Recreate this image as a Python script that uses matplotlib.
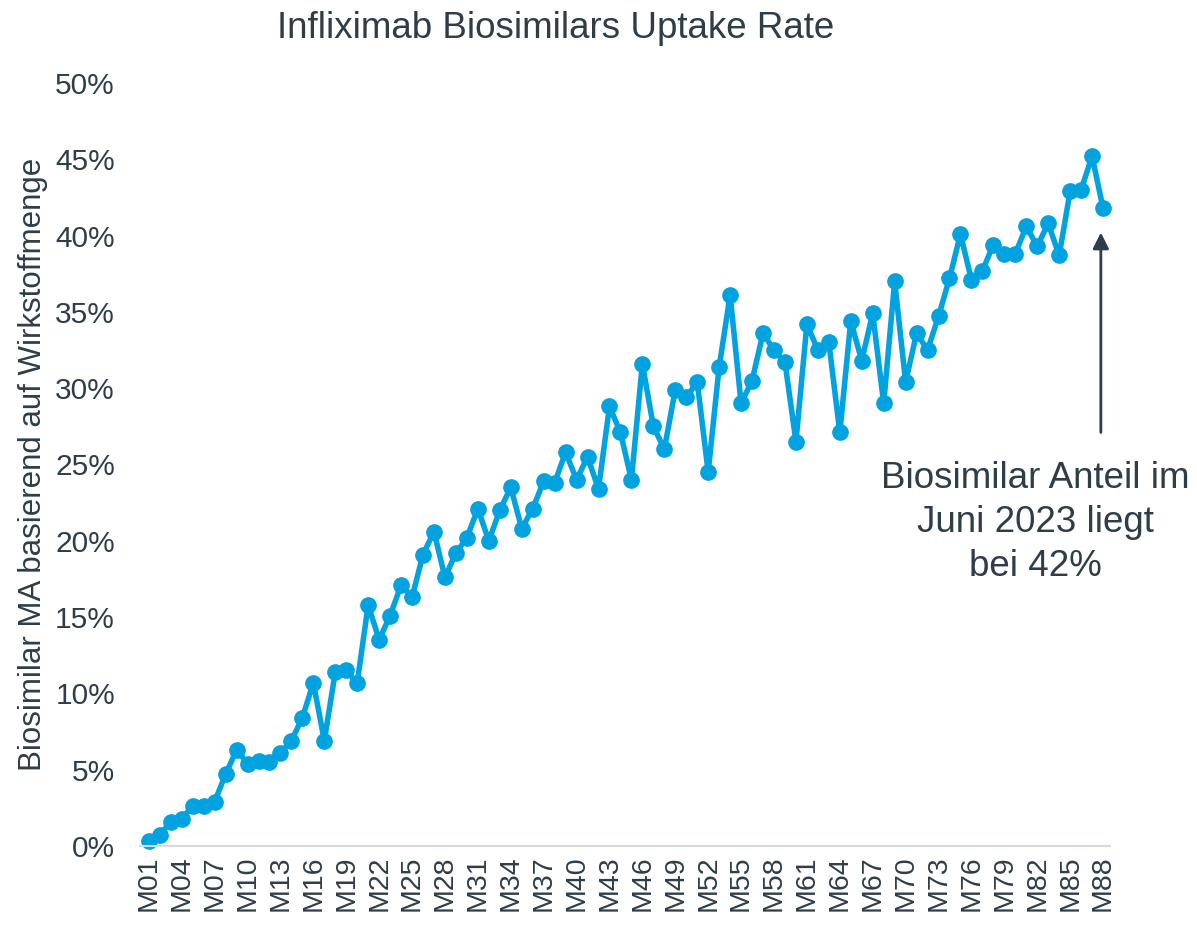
import matplotlib
matplotlib.use("Agg")
import matplotlib.pyplot as plt
from matplotlib.ticker import FuncFormatter

# monthly biosimilar share (%), M01..M88
months = [f"M{i:02d}" for i in range(1, 89)]
share = [
    0.3, 0.7, 1.6, 1.8, 2.6, 2.6, 2.9, 4.7, 6.3, 5.4,
    5.6, 5.5, 6.1, 6.9, 8.4, 10.7, 6.9, 11.4, 11.5, 10.7,
    15.8, 13.5, 15.1, 17.1, 16.3, 19.1, 20.6, 17.6, 19.2, 20.2,
    22.1, 20.0, 22.0, 23.5, 20.8, 22.1, 23.9, 23.8, 25.8, 24.0,
    25.5, 23.4, 28.8, 27.1, 24.0, 31.6, 27.5, 26.0, 29.9, 29.4,
    30.4, 24.5, 31.4, 36.1, 29.0, 30.5, 33.6, 32.5, 31.7, 26.5,
    34.2, 32.5, 33.0, 27.1, 34.4, 31.8, 34.9, 29.0, 37.0, 30.4,
    33.6, 32.5, 34.7, 37.2, 40.1, 37.1, 37.7, 39.4, 38.8, 38.8,
    40.6, 39.3, 40.8, 38.7, 42.9, 43.0, 45.2, 41.8,
]
yticks = [0, 5, 10, 15, 20, 25, 30, 35, 40, 45, 50]
note = "Biosimilar Anteil im\nJuni 2023 liegt\nbei 42%"

BLUE = "#00A3E0"
DARK = "#2E3D48"

plt.rcParams["font.family"] = ["Liberation Sans", "DejaVu Sans"]

fig = plt.figure(figsize=(11.97, 9.26), dpi=100)
ax = fig.add_axes([0.117, 0.0864, 0.81, 0.824])

x = list(range(len(months)))
ax.plot(x, share, color=BLUE, linewidth=4, marker="o", markersize=11,
        solid_joinstyle="round", clip_on=False)

ax.set_xlim(-0.8, 87.6)
ax.set_ylim(0, 50)
ax.set_yticks(yticks)
ax.yaxis.set_major_formatter(FuncFormatter(lambda v, p: f"{v:.0f}%"))
ax.set_xticks(x[::3])
ax.set_xticklabels(months[::3], rotation=90)
ax.tick_params(axis="both", length=0, labelcolor=DARK)
ax.tick_params(axis="x", pad=7, labelsize=20.5)
ax.tick_params(axis="y", pad=18, labelsize=21.5)

for s in ["top", "right", "left"]:
    ax.spines[s].set_visible(False)
ax.spines["bottom"].set_color("#D5DCE0")
ax.spines["bottom"].set_linewidth(1.5)

ax.set_ylabel("Biosimilar MA basierend auf Wirkstoffmenge", fontsize=22.5,
              color=DARK, labelpad=5)

fig.text(0.464, 0.969, "Infliximab Biosimilars Uptake Rate", fontsize=26.5,
         color=DARK, ha="center", va="center")

# arrow pointing to the last value
ax.annotate("", xy=(86.8, 40.2), xytext=(86.8, 27.1),
            arrowprops=dict(arrowstyle="-|>", color=DARK, lw=2,
                            mutation_scale=24, shrinkA=0, shrinkB=0))
ax.text(80.8, 21.2, note, fontsize=26.5, color=DARK, ha="center",
        va="center", linespacing=1.35)

fig.savefig("out.png", dpi=100)
